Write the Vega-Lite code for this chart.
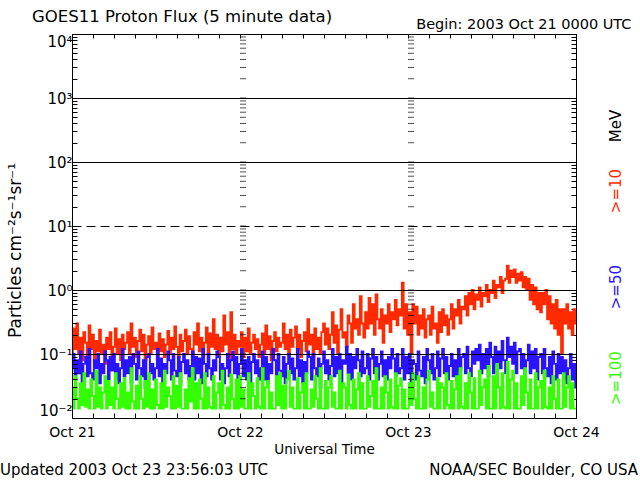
{
"$schema": "https://vega.github.io/schema/vega-lite/v6.json",
"width": 504, "height": 384,
"autosize": {"type": "none"},
"padding": {"left": 72, "top": 34, "right": 64, "bottom": 62},
"background": "white",
"title": {"text": "GOES11 Proton Flux (5 minute data)", "anchor": "start", "frame": "group", "dx": -40, "dy": 31, "fontSize": 16.5, "fontWeight": "normal", "font": "DejaVu Sans", "color": "black", "baseline": "alphabetic", "offset": 9},
"config": {
  "view": {"stroke": null},
  "axis": {"domainColor": "black", "domainWidth": 1, "tickColor": "black", "tickWidth": 1, "labelColor": "black", "titleColor": "black", "labelFont": "DejaVu Sans", "titleFont": "DejaVu Sans", "titleFontWeight": "normal", "labelFontSize": 14, "titleFontSize": 14, "tickSize": -5, "labelOverlap": false, "labelFlush": false}
},
"datasets": {
"yt": [{"v":0.02},{"v":0.03},{"v":0.04},{"v":0.05},{"v":0.06},{"v":0.07},{"v":0.08},{"v":0.09},{"v":0.1},{"v":0.2},{"v":0.3},{"v":0.4},{"v":0.5},{"v":0.6},{"v":0.7},{"v":0.8},{"v":0.9},{"v":1},{"v":2},{"v":3},{"v":4},{"v":5},{"v":6},{"v":7},{"v":8},{"v":9},{"v":10},{"v":20},{"v":30},{"v":40},{"v":50},{"v":60},{"v":70},{"v":80},{"v":90},{"v":100},{"v":200},{"v":300},{"v":400},{"v":500},{"v":600},{"v":700},{"v":800},{"v":900},{"v":1000},{"v":2000},{"v":3000},{"v":4000},{"v":5000},{"v":6000},{"v":7000},{"v":8000},{"v":9000}],
"flux": [
{"h":0,"r":0.09,"b":0.06,"g":0.03},{"h":0.25,"r":0.25,"b":0.1,"g":0.014},{"h":0.5,"r":0.12,"b":0.04,"g":0.045},{"h":0.75,"r":0.3,"b":0.08,"g":0.02},
{"h":1,"r":0.1,"b":0.05,"g":0.014},{"h":1.25,"r":0.18,"b":0.11,"g":0.035},{"h":1.5,"r":0.08,"b":0.035,"g":0.016},{"h":1.75,"r":0.22,"b":0.07,"g":0.05},
{"h":2,"r":0.15,"b":0.09,"g":0.015},{"h":2.25,"r":0.09,"b":0.045,"g":0.028},{"h":2.5,"r":0.28,"b":0.12,"g":0.014},{"h":2.75,"r":0.12,"b":0.05,"g":0.04},
{"h":3,"r":0.2,"b":0.04,"g":0.022},{"h":3.25,"r":0.08,"b":0.08,"g":0.014},{"h":3.5,"r":0.16,"b":0.06,"g":0.055},{"h":3.75,"r":0.11,"b":0.1,"g":0.015},
{"h":4,"r":0.24,"b":0.035,"g":0.03},{"h":4.25,"r":0.1,"b":0.07,"g":0.014},{"h":4.5,"r":0.14,"b":0.05,"g":0.025},{"h":4.75,"r":0.07,"b":0.11,"g":0.045},
{"h":5,"r":0.18,"b":0.08,"g":0.014},{"h":5.25,"r":0.12,"b":0.04,"g":0.038},{"h":5.5,"r":0.22,"b":0.09,"g":0.016},{"h":5.75,"r":0.09,"b":0.055,"g":0.03},
{"h":6,"r":0.13,"b":0.1,"g":0.014},{"h":6.25,"r":0.25,"b":0.04,"g":0.05},{"h":6.5,"r":0.1,"b":0.07,"g":0.02},{"h":6.75,"r":0.17,"b":0.035,"g":0.014},
{"h":7,"r":0.08,"b":0.06,"g":0.035},{"h":7.25,"r":0.2,"b":0.12,"g":0.015},{"h":7.5,"r":0.12,"b":0.045,"g":0.042},{"h":7.75,"r":0.15,"b":0.08,"g":0.014},
{"h":8,"r":0.22,"b":0.05,"g":0.025},{"h":8.25,"r":0.1,"b":0.09,"g":0.014},{"h":8.5,"r":0.3,"b":0.035,"g":0.06},{"h":8.75,"r":0.13,"b":0.1,"g":0.018},
{"h":9,"r":0.18,"b":0.07,"g":0.014},{"h":9.25,"r":0.09,"b":0.04,"g":0.032},{"h":9.5,"r":0.16,"b":0.11,"g":0.014},{"h":9.75,"r":0.24,"b":0.06,"g":0.045},
{"h":10,"r":0.11,"b":0.045,"g":0.02},{"h":10.25,"r":0.2,"b":0.08,"g":0.014},{"h":10.5,"r":0.08,"b":0.03,"g":0.038},{"h":10.75,"r":0.14,"b":0.09,"g":0.015},
{"h":11,"r":0.19,"b":0.1,"g":0.05},{"h":11.25,"r":0.1,"b":0.05,"g":0.014},{"h":11.5,"r":0.26,"b":0.07,"g":0.028},{"h":11.75,"r":0.12,"b":0.04,"g":0.014},
{"h":12,"r":0.15,"b":0.06,"g":0.04},{"h":12.25,"r":0.08,"b":0.12,"g":0.016},{"h":12.5,"r":0.21,"b":0.045,"g":0.014},{"h":12.75,"r":0.11,"b":0.085,"g":0.035},
{"h":13,"r":0.17,"b":0.035,"g":0.014},{"h":13.25,"r":0.09,"b":0.07,"g":0.055},{"h":13.5,"r":0.14,"b":0.05,"g":0.015},{"h":13.75,"r":0.23,"b":0.11,"g":0.03},
{"h":14,"r":0.1,"b":0.08,"g":0.022},{"h":14.25,"r":0.18,"b":0.04,"g":0.014},{"h":14.5,"r":0.12,"b":0.1,"g":0.045},{"h":14.75,"r":0.27,"b":0.055,"g":0.014},
{"h":15,"r":0.13,"b":0.045,"g":0.032},{"h":15.25,"r":0.09,"b":0.09,"g":0.015},{"h":15.5,"r":0.2,"b":0.035,"g":0.05},{"h":15.75,"r":0.11,"b":0.075,"g":0.014},
{"h":16,"r":0.16,"b":0.1,"g":0.014},{"h":16.25,"r":0.24,"b":0.05,"g":0.028},{"h":16.5,"r":0.1,"b":0.08,"g":0.014},{"h":16.75,"r":0.19,"b":0.04,"g":0.042},
{"h":17,"r":0.12,"b":0.065,"g":0.018},{"h":17.25,"r":0.08,"b":0.11,"g":0.06},{"h":17.5,"r":0.22,"b":0.04,"g":0.014},{"h":17.75,"r":0.14,"b":0.09,"g":0.035},
{"h":18,"r":0.3,"b":0.05,"g":0.014},{"h":18.25,"r":0.11,"b":0.085,"g":0.04},{"h":18.5,"r":0.18,"b":0.035,"g":0.02},{"h":18.75,"r":0.09,"b":0.12,"g":0.014},
{"h":19,"r":0.15,"b":0.07,"g":0.05},{"h":19.25,"r":0.26,"b":0.045,"g":0.014},{"h":19.5,"r":0.1,"b":0.1,"g":0.03},{"h":19.75,"r":0.21,"b":0.06,"g":0.015},
{"h":20,"r":0.13,"b":0.04,"g":0.014},{"h":20.25,"r":0.35,"b":0.08,"g":0.045},{"h":20.5,"r":0.12,"b":0.055,"g":0.014},{"h":20.75,"r":0.2,"b":0.11,"g":0.025},
{"h":21,"r":0.09,"b":0.09,"g":0.035},{"h":21.25,"r":0.18,"b":0.04,"g":0.014},{"h":21.5,"r":0.11,"b":0.07,"g":0.055},{"h":21.75,"r":0.4,"b":0.035,"g":0.016},
{"h":22,"r":0.14,"b":0.06,"g":0.014},{"h":22.25,"r":0.22,"b":0.1,"g":0.03},{"h":22.5,"r":0.08,"b":0.045,"g":0.014},{"h":22.75,"r":0.45,"b":0.08,"g":0.048},
{"h":23,"r":0.12,"b":0.11,"g":0.02},{"h":23.25,"r":0.2,"b":0.05,"g":0.014},{"h":23.5,"r":0.1,"b":0.09,"g":0.04},{"h":23.75,"r":0.16,"b":0.04,"g":0.014},
{"h":24,"r":0.13,"b":0.07,"g":0.045},{"h":24.25,"r":0.22,"b":0.12,"g":0.015},{"h":24.5,"r":0.09,"b":0.045,"g":0.028},{"h":24.75,"r":0.18,"b":0.08,"g":0.014},
{"h":25,"r":0.11,"b":0.04,"g":0.014},{"h":25.25,"r":0.25,"b":0.09,"g":0.05},{"h":25.5,"r":0.1,"b":0.035,"g":0.014},{"h":25.75,"r":0.15,"b":0.075,"g":0.035},
{"h":26,"r":0.2,"b":0.1,"g":0.022},{"h":26.25,"r":0.12,"b":0.05,"g":0.014},{"h":26.5,"r":0.17,"b":0.08,"g":0.042},{"h":26.75,"r":0.09,"b":0.04,"g":0.015},
{"h":27,"r":0.14,"b":0.06,"g":0.014},{"h":27.25,"r":0.21,"b":0.11,"g":0.06},{"h":27.5,"r":0.1,"b":0.04,"g":0.014},{"h":27.75,"r":0.28,"b":0.09,"g":0.03},
{"h":28,"r":0.12,"b":0.035,"g":0.038},{"h":28.25,"r":0.19,"b":0.07,"g":0.014},{"h":28.5,"r":0.08,"b":0.05,"g":0.025},{"h":28.75,"r":0.16,"b":0.12,"g":0.014},
{"h":29,"r":0.22,"b":0.08,"g":0.014},{"h":29.25,"r":0.11,"b":0.04,"g":0.045},{"h":29.5,"r":0.18,"b":0.1,"g":0.016},{"h":29.75,"r":0.13,"b":0.055,"g":0.05},
{"h":30,"r":0.15,"b":0.045,"g":0.014},{"h":30.25,"r":0.3,"b":0.09,"g":0.032},{"h":30.5,"r":0.12,"b":0.035,"g":0.014},{"h":30.75,"r":0.2,"b":0.07,"g":0.04},
{"h":31,"r":0.1,"b":0.1,"g":0.055},{"h":31.25,"r":0.24,"b":0.05,"g":0.015},{"h":31.5,"r":0.13,"b":0.085,"g":0.03},{"h":31.75,"r":0.18,"b":0.04,"g":0.014},
{"h":32,"r":0.27,"b":0.06,"g":0.014},{"h":32.25,"r":0.12,"b":0.12,"g":0.042},{"h":32.5,"r":0.2,"b":0.045,"g":0.014},{"h":32.75,"r":0.09,"b":0.08,"g":0.025},
{"h":33,"r":0.16,"b":0.035,"g":0.035},{"h":33.25,"r":0.22,"b":0.075,"g":0.014},{"h":33.5,"r":0.11,"b":0.05,"g":0.05},{"h":33.75,"r":0.35,"b":0.11,"g":0.014},
{"h":34,"r":0.14,"b":0.09,"g":0.014},{"h":34.25,"r":0.2,"b":0.04,"g":0.028},{"h":34.5,"r":0.09,"b":0.1,"g":0.015},{"h":34.75,"r":0.25,"b":0.06,"g":0.045},
{"h":35,"r":0.12,"b":0.045,"g":0.02},{"h":35.25,"r":0.18,"b":0.085,"g":0.014},{"h":35.5,"r":0.1,"b":0.03,"g":0.06},{"h":35.75,"r":0.22,"b":0.07,"g":0.014},
{"h":36,"r":0.3,"b":0.11,"g":0.014},{"h":36.25,"r":0.14,"b":0.05,"g":0.038},{"h":36.5,"r":0.25,"b":0.08,"g":0.014},{"h":36.75,"r":0.12,"b":0.04,"g":0.03},
{"h":37,"r":0.2,"b":0.065,"g":0.045},{"h":37.25,"r":0.45,"b":0.12,"g":0.015},{"h":37.5,"r":0.15,"b":0.045,"g":0.025},{"h":37.75,"r":0.28,"b":0.09,"g":0.014},
{"h":38,"r":0.1,"b":0.05,"g":0.014},{"h":38.25,"r":0.24,"b":0.1,"g":0.055},{"h":38.5,"r":0.5,"b":0.035,"g":0.014},{"h":38.75,"r":0.18,"b":0.08,"g":0.035},
{"h":39,"r":0.22,"b":0.07,"g":0.03},{"h":39.25,"r":0.13,"b":0.13,"g":0.014},{"h":39.5,"r":0.4,"b":0.05,"g":0.048},{"h":39.75,"r":0.3,"b":0.1,"g":0.016},
{"h":40,"r":0.15,"b":0.04,"g":0.014},{"h":40.25,"r":0.6,"b":0.09,"g":0.04},{"h":40.5,"r":0.25,"b":0.06,"g":0.014},{"h":40.75,"r":0.35,"b":0.12,"g":0.028},
{"h":41,"r":0.2,"b":0.08,"g":0.05},{"h":41.25,"r":0.8,"b":0.045,"g":0.014},{"h":41.5,"r":0.3,"b":0.11,"g":0.035},{"h":41.75,"r":0.18,"b":0.05,"g":0.014},
{"h":42,"r":0.45,"b":0.06,"g":0.014},{"h":42.25,"r":0.25,"b":0.1,"g":0.045},{"h":42.5,"r":0.75,"b":0.04,"g":0.015},{"h":42.75,"r":0.3,"b":0.085,"g":0.022},
{"h":43,"r":0.6,"b":0.12,"g":0.038},{"h":43.25,"r":0.2,"b":0.05,"g":0.014},{"h":43.5,"r":0.85,"b":0.09,"g":0.06},{"h":43.75,"r":0.35,"b":0.04,"g":0.014},
{"h":44,"r":0.25,"b":0.07,"g":0.014},{"h":44.25,"r":0.5,"b":0.11,"g":0.03},{"h":44.5,"r":0.15,"b":0.045,"g":0.014},{"h":44.75,"r":0.4,"b":0.08,"g":0.045},
{"h":45,"r":0.3,"b":0.04,"g":0.025},{"h":45.25,"r":0.6,"b":0.09,"g":0.014},{"h":45.5,"r":0.22,"b":0.06,"g":0.04},{"h":45.75,"r":0.45,"b":0.12,"g":0.015},
{"h":46,"r":0.35,"b":0.085,"g":0.014},{"h":46.25,"r":0.7,"b":0.045,"g":0.05},{"h":46.5,"r":0.28,"b":0.1,"g":0.014},{"h":46.75,"r":0.5,"b":0.05,"g":0.032},
{"h":47,"r":0.4,"b":0.06,"g":0.042},{"h":47.25,"r":1.3,"b":0.12,"g":0.014},{"h":47.5,"r":0.25,"b":0.04,"g":0.028},{"h":47.75,"r":0.6,"b":0.09,"g":0.014},
{"h":48,"r":0.2,"b":0.05,"g":0.014},{"h":48.25,"r":0.45,"b":0.1,"g":0.035},{"h":48.5,"r":0.1,"b":0.035,"g":0.016},{"h":48.75,"r":0.6,"b":0.08,"g":0.05},
{"h":49,"r":0.3,"b":0.07,"g":0.02},{"h":49.25,"r":0.55,"b":0.04,"g":0.014},{"h":49.5,"r":0.2,"b":0.11,"g":0.045},{"h":49.75,"r":0.4,"b":0.055,"g":0.014},
{"h":50,"r":0.25,"b":0.045,"g":0.014},{"h":50.25,"r":0.5,"b":0.09,"g":0.03},{"h":50.5,"r":0.18,"b":0.035,"g":0.014},{"h":50.75,"r":0.35,"b":0.12,"g":0.04},
{"h":51,"r":0.4,"b":0.08,"g":0.055},{"h":51.25,"r":0.2,"b":0.05,"g":0.015},{"h":51.5,"r":0.55,"b":0.1,"g":0.025},{"h":51.75,"r":0.25,"b":0.04,"g":0.014},
{"h":52,"r":0.3,"b":0.06,"g":0.014},{"h":52.25,"r":0.15,"b":0.11,"g":0.042},{"h":52.5,"r":0.45,"b":0.045,"g":0.014},{"h":52.75,"r":0.22,"b":0.085,"g":0.035},
{"h":53,"r":0.5,"b":0.12,"g":0.03},{"h":53.25,"r":0.28,"b":0.05,"g":0.014},{"h":53.5,"r":0.4,"b":0.09,"g":0.05},{"h":53.75,"r":0.2,"b":0.04,"g":0.016},
{"h":54,"r":0.35,"b":0.065,"g":0.014},{"h":54.25,"r":0.6,"b":0.1,"g":0.038},{"h":54.5,"r":0.25,"b":0.045,"g":0.014},{"h":54.75,"r":0.5,"b":0.08,"g":0.028},
{"h":55,"r":0.4,"b":0.04,"g":0.045},{"h":55.25,"r":0.7,"b":0.12,"g":0.014},{"h":55.5,"r":0.3,"b":0.055,"g":0.06},{"h":55.75,"r":0.55,"b":0.09,"g":0.015},
{"h":56,"r":0.5,"b":0.1,"g":0.014},{"h":56.25,"r":0.8,"b":0.05,"g":0.035},{"h":56.5,"r":0.4,"b":0.13,"g":0.014},{"h":56.75,"r":0.9,"b":0.06,"g":0.05},
{"h":57,"r":0.6,"b":0.045,"g":0.025},{"h":57.25,"r":1.0,"b":0.11,"g":0.014},{"h":57.5,"r":0.5,"b":0.07,"g":0.042},{"h":57.75,"r":0.85,"b":0.12,"g":0.014},
{"h":58,"r":0.7,"b":0.08,"g":0.014},{"h":58.25,"r":1.1,"b":0.14,"g":0.055},{"h":58.5,"r":0.55,"b":0.05,"g":0.016},{"h":58.75,"r":0.9,"b":0.1,"g":0.03},
{"h":59,"r":0.8,"b":0.06,"g":0.04},{"h":59.25,"r":1.2,"b":0.12,"g":0.014},{"h":59.5,"r":0.65,"b":0.045,"g":0.065},{"h":59.75,"r":1.0,"b":0.15,"g":0.014},
{"h":60,"r":0.9,"b":0.09,"g":0.014},{"h":60.25,"r":1.4,"b":0.05,"g":0.045},{"h":60.5,"r":0.75,"b":0.13,"g":0.014},{"h":60.75,"r":1.2,"b":0.07,"g":0.07},
{"h":61,"r":1.1,"b":0.11,"g":0.03},{"h":61.25,"r":1.6,"b":0.06,"g":0.014},{"h":61.5,"r":0.9,"b":0.16,"g":0.05},{"h":61.75,"r":1.4,"b":0.08,"g":0.015},
{"h":62,"r":1.5,"b":0.05,"g":0.014},{"h":62.25,"r":2.4,"b":0.18,"g":0.075},{"h":62.5,"r":1.3,"b":0.09,"g":0.014},{"h":62.75,"r":2.0,"b":0.13,"g":0.04},
{"h":63,"r":1.6,"b":0.07,"g":0.055},{"h":63.25,"r":2.1,"b":0.15,"g":0.014},{"h":63.5,"r":1.3,"b":0.05,"g":0.035},{"h":63.75,"r":1.8,"b":0.11,"g":0.014},
{"h":64,"r":1.4,"b":0.12,"g":0.014},{"h":64.25,"r":1.9,"b":0.06,"g":0.045},{"h":64.5,"r":1.1,"b":0.1,"g":0.016},{"h":64.75,"r":1.6,"b":0.045,"g":0.06},
{"h":65,"r":1.0,"b":0.08,"g":0.025},{"h":65.25,"r":1.5,"b":0.14,"g":0.014},{"h":65.5,"r":0.7,"b":0.05,"g":0.04},{"h":65.75,"r":1.2,"b":0.11,"g":0.014},
{"h":66,"r":0.6,"b":0.06,"g":0.014},{"h":66.25,"r":1.1,"b":0.12,"g":0.05},{"h":66.5,"r":0.5,"b":0.04,"g":0.014},{"h":66.75,"r":0.9,"b":0.09,"g":0.03},
{"h":67,"r":0.45,"b":0.1,"g":0.038},{"h":67.25,"r":0.9,"b":0.05,"g":0.014},{"h":67.5,"r":0.6,"b":0.12,"g":0.055},{"h":67.75,"r":1.0,"b":0.06,"g":0.015},
{"h":68,"r":0.35,"b":0.045,"g":0.014},{"h":68.25,"r":0.8,"b":0.09,"g":0.03},{"h":68.5,"r":0.3,"b":0.035,"g":0.014},{"h":68.75,"r":0.6,"b":0.11,"g":0.045},
{"h":69,"r":0.25,"b":0.07,"g":0.02},{"h":69.25,"r":0.7,"b":0.04,"g":0.014},{"h":69.5,"r":0.2,"b":0.1,"g":0.04},{"h":69.75,"r":0.5,"b":0.05,"g":0.014},
{"h":70,"r":0.1,"b":0.09,"g":0.014},{"h":70.25,"r":0.5,"b":0.04,"g":0.05},{"h":70.5,"r":0.3,"b":0.08,"g":0.015},{"h":70.75,"r":0.6,"b":0.035,"g":0.03},
{"h":71,"r":0.25,"b":0.06,"g":0.045},{"h":71.25,"r":0.45,"b":0.1,"g":0.014},{"h":71.5,"r":0.2,"b":0.04,"g":0.035},{"h":71.75,"r":0.5,"b":0.07,"g":0.014},
{"h":72,"r":0.3,"b":0.03,"g":0.014}
]},
"layer": [
 {"data": {"name": "flux"},
  "mark": {"type": "line", "color": "#ff2a00", "strokeWidth": 1.9, "interpolate": "step"},
  "encoding": {
   "x": {"field": "h", "type": "quantitative", "scale": {"domain": [0, 72], "nice": false, "zero": false},
     "axis": {"orient": "bottom", "values": [0,3,6,9,12,15,18,21,24,27,30,33,36,39,42,45,48,51,54,57,60,63,66,69,72],
       "labelExpr": "datum.value==0?'Oct 21':datum.value==24?'Oct 22':datum.value==48?'Oct 23':datum.value==72?'Oct 24':''",
       "labelPadding": 12, "title": "Universal Time", "titleFontSize": 13.5, "titlePadding": 3, "grid": false}},
   "y": {"field": "r", "type": "quantitative", "scale": {"type": "log", "domain": [0.01, 10000], "nice": false},
     "axis": {"orient": "left", "zindex": 1,
       "values": [0.01,0.02,0.03,0.04,0.05,0.06,0.07,0.08,0.09,0.1,0.2,0.3,0.4,0.5,0.6,0.7,0.8,0.9,1,2,3,4,5,6,7,8,9,10,20,30,40,50,60,70,80,90,100,200,300,400,500,600,700,800,900,1000,2000,3000,4000,5000,6000,7000,8000,9000,10000],
       "labelExpr": "datum.value==10000?'10⁴':datum.value==1000?'10³':datum.value==100?'10²':datum.value==10?'10¹':datum.value==1?'10⁰':datum.value==0.1?'10⁻¹':datum.value==0.01?'10⁻²':''",
       "labelPadding": 5, "labelFontSize": 15, "labelFlush": true, "labelFlushOffset": 0,
       "grid": true, "gridColor": "black", "gridWidth": 1,
       "gridOpacity": {"condition": {"test": "datum.value==1000||datum.value==100||datum.value==10||datum.value==1||datum.value==0.1", "value": 1}, "value": 0},
       "gridDash": {"condition": {"test": "datum.value==10", "value": [9, 5]}, "value": []},
       "title": "Particles cm⁻²s⁻¹sr⁻¹", "titleFontSize": 17, "titleAngle": 270, "titleX": -57, "titleY": 216, "titleAlign": "center", "titleBaseline": "middle", "titleAnchor": null}}
  }},
 {"data": {"name": "flux"},
  "mark": {"type": "line", "color": "#2a14ff", "strokeWidth": 1.9, "interpolate": "step"},
  "encoding": {
   "x": {"field": "h", "type": "quantitative",
     "axis": {"orient": "top", "values": [0,3,6,9,12,15,18,21,24,27,30,33,36,39,42,45,48,51,54,57,60,63,66,69,72],
       "labels": false, "grid": false, "tickSize": -4, "title": "Begin: 2003 Oct 21 0000 UTC", "titleFontSize": 14.5,
       "titleX": 559, "titleY": -6, "titleAlign": "right", "titleBaseline": "alphabetic", "titleAnchor": null}},
   "y": {"field": "b", "type": "quantitative",
     "axis": {"orient": "right", "labels": false, "grid": false, "title": null,
       "values": [0.01,0.02,0.03,0.04,0.05,0.06,0.07,0.08,0.09,0.1,0.2,0.3,0.4,0.5,0.6,0.7,0.8,0.9,1,2,3,4,5,6,7,8,9,10,20,30,40,50,60,70,80,90,100,200,300,400,500,600,700,800,900,1000,2000,3000,4000,5000,6000,7000,8000,9000,10000]}}
  }},
 {"data": {"name": "flux"},
  "mark": {"type": "line", "color": "#33ff00", "strokeWidth": 1.9, "interpolate": "step"},
  "encoding": {
   "x": {"field": "h", "type": "quantitative", "axis": null},
   "y": {"field": "g", "type": "quantitative", "axis": null}
  }},
 {"data": {"name": "yt"},
  "mark": {"type": "tick", "orient": "horizontal", "size": 6, "thickness": 1, "color": "black", "xOffset": 3},
  "encoding": {
   "x": {"datum": 24, "type": "quantitative", "axis": null},
   "y": {"field": "v", "type": "quantitative", "axis": null}
  }},
 {"data": {"name": "yt"},
  "mark": {"type": "tick", "orient": "horizontal", "size": 6, "thickness": 1, "color": "black", "xOffset": 3},
  "encoding": {
   "x": {"datum": 48, "type": "quantitative", "axis": null},
   "y": {"field": "v", "type": "quantitative", "axis": null}
  }},
 {"data": {"values": [{}]},
  "mark": {"type": "text", "text": "MeV", "color": "black", "angle": 270, "fontSize": 15, "font": "DejaVu Sans", "align": "center", "baseline": "middle"},
  "encoding": {"x": {"datum": 77.7, "type": "quantitative", "axis": null}, "y": {"datum": 365, "type": "quantitative", "axis": null}}},
 {"data": {"values": [{}]},
  "mark": {"type": "text", "text": ">=10", "color": "#ff2a00", "angle": 270, "fontSize": 15, "font": "DejaVu Sans", "align": "center", "baseline": "middle"},
  "encoding": {"x": {"datum": 77.7, "type": "quantitative", "axis": null}, "y": {"datum": 35.2, "type": "quantitative", "axis": null}}},
 {"data": {"values": [{}]},
  "mark": {"type": "text", "text": ">=50", "color": "#2a14ff", "angle": 270, "fontSize": 15, "font": "DejaVu Sans", "align": "center", "baseline": "middle"},
  "encoding": {"x": {"datum": 77.7, "type": "quantitative", "axis": null}, "y": {"datum": 1.11, "type": "quantitative", "axis": null}}},
 {"data": {"values": [{}]},
  "mark": {"type": "text", "text": ">=100", "color": "#33ff00", "angle": 270, "fontSize": 15, "font": "DejaVu Sans", "align": "center", "baseline": "middle"},
  "encoding": {"x": {"datum": 77.7, "type": "quantitative", "axis": null}, "y": {"datum": 0.042, "type": "quantitative", "axis": null}}},
 {"data": {"values": [{}]},
  "mark": {"type": "text", "text": "Updated 2003 Oct 23 23:56:03 UTC", "color": "black", "fontSize": 15, "font": "DejaVu Sans", "align": "left", "baseline": "alphabetic"},
  "encoding": {"x": {"datum": -10.29, "type": "quantitative", "axis": null}, "y": {"datum": 0.00129, "type": "quantitative", "axis": null}}},
 {"data": {"values": [{}]},
  "mark": {"type": "text", "text": "NOAA/SEC Boulder, CO USA", "color": "black", "fontSize": 15, "font": "DejaVu Sans", "align": "right", "baseline": "alphabetic"},
  "encoding": {"x": {"datum": 80.86, "type": "quantitative", "axis": null}, "y": {"datum": 0.00129, "type": "quantitative", "axis": null}}}
],
"resolve": {"axis": {"x": "independent", "y": "independent"}}
}
